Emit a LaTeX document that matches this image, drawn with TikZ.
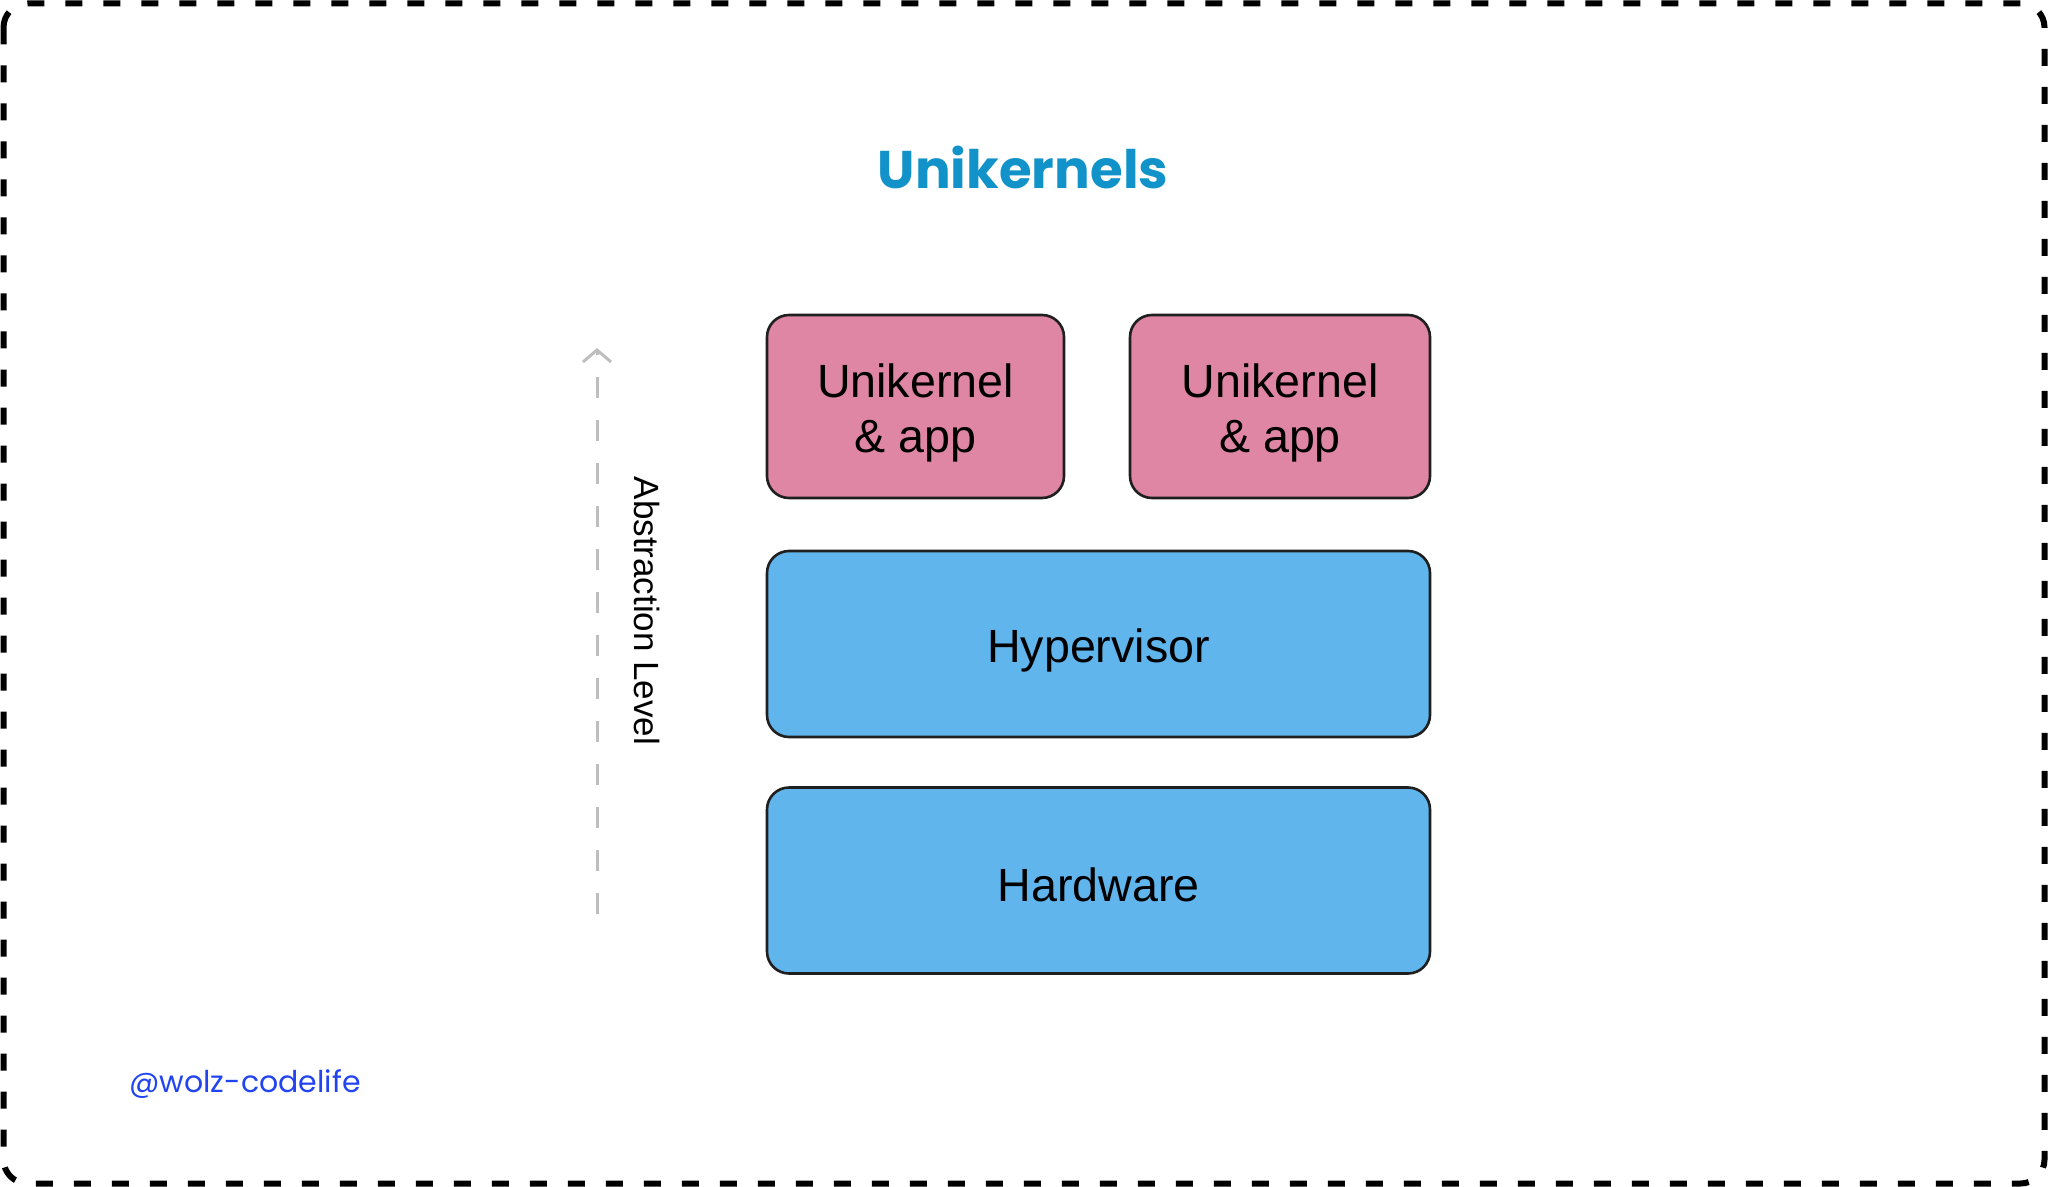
\documentclass[tikz,border=0pt]{standalone}
\usepackage{fontspec}
\setmainfont{Liberation Sans}
\newfontfamily\handfont{Poppins}
\usetikzlibrary{arrows.meta}
\definecolor{pinkfill}{RGB}{222,134,164}
\definecolor{bluefill}{RGB}{96,181,236}
\definecolor{titleblue}{RGB}{17,147,201}
\definecolor{markblue}{RGB}{34,68,240}
\definecolor{arrowgray}{RGB}{190,190,190}
\begin{document}
\begin{tikzpicture}[x=0.5pt,y=-0.5pt,
  layer/.style={draw=black!88, line width=1.3pt, rounded corners=11pt, inner sep=0pt},
  appbox/.style={layer, fill=pinkfill, minimum height=91.5pt},
  basebox/.style={layer, fill=bluefill, minimum width=331.5pt, minimum height=93pt},
  boxtext/.style={align=center, font=\fontsize{23.3}{27.5}\selectfont, inner sep=0pt}
 ]
\useasboundingbox (0,0) rectangle (2048,1187);
\draw[line width=3pt, dash pattern=on 8.5pt off 10.5pt, rounded corners=12pt] (3.5,3.5) rectangle (2044.5,1183.5);

\node[font=\handfont\bfseries\fontsize{26.5}{32}\selectfont, text=titleblue] (title) at (1023,167) {Unikernels};

\node[appbox, minimum width=148.5pt] (app1) at (915.5,406.5) {};
\node[appbox, minimum width=150pt] (app2) at (1280,406.5) {};
\node[basebox] (hyp) at (1098.5,644) {};
\node[basebox] (hw) at (1098.5,880.5) {};
\node[boxtext] (app1t) at ([yshift=-3pt]app1.center) {Unikernel\\\& app};
\node[boxtext] (app2t) at ([yshift=-3pt]app2.center) {Unikernel\\\& app};
\node[boxtext] (hypt) at ([yshift=-3pt]hyp.center) {Hypervisor};
\node[boxtext] (hwt) at ([yshift=-2pt]hw.center) {Hardware};

\coordinate (a0) at (597,914);
\coordinate (a1) at (597,348);
\draw[arrowgray, line width=1.5pt, dash pattern=on 10.5pt off 11pt,
  -{Straight Barb[length=6pt,width=14pt,line width=1.5pt]}] (a0) -- (a1);
\node[rotate=-90, font=\fontsize{17.5}{21}\selectfont] (lvl) at (647,611) {Abstraction Level};

\node[font=\handfont\fontsize{15}{18}\selectfont, text=markblue] (mark) at (245,1084) {@wolz-codelife};
\end{tikzpicture}
\end{document}
